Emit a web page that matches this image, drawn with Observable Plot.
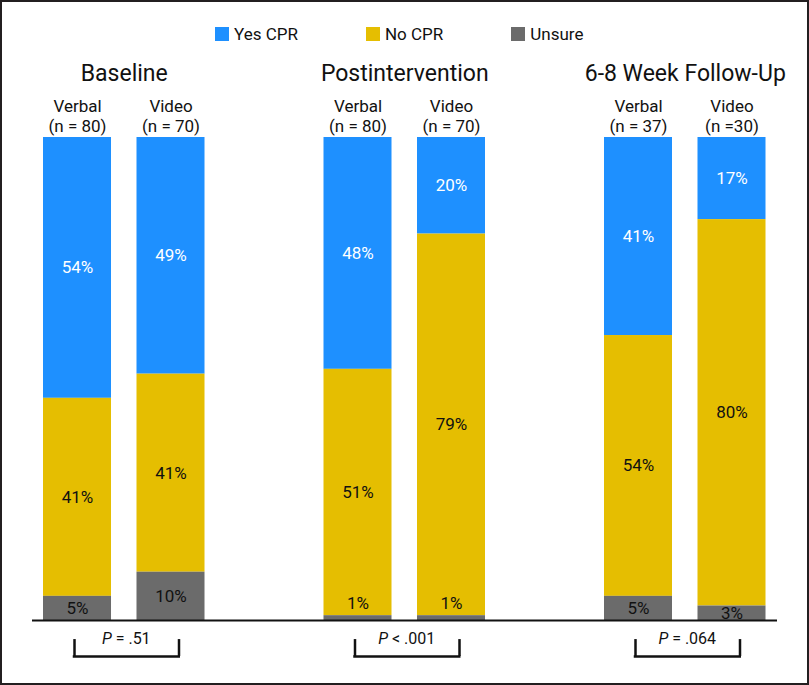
<!DOCTYPE html>
<html><head><meta charset="utf-8">
<script src="https://cdn.jsdelivr.net/npm/d3@7"></script>
<script src="https://cdn.jsdelivr.net/npm/@observablehq/plot@0.6"></script>
<style>
body{margin:0;background:#fff;}
#wrap{position:relative;width:809px;height:685px;overflow:hidden;background:#fff;font-family:Roboto,"Liberation Sans",sans-serif;}
#frame{position:absolute;left:0;top:0;width:809px;height:685px;box-sizing:border-box;border:2px solid #231f20;pointer-events:none;}
#legend{height:55px;box-sizing:border-box;padding-top:17.5px;}
.lg-swatches{font-family:Roboto,sans-serif !important;font-size:17px !important;color:#111 !important;}
.lg-swatch{margin-right:68px !important;}
.lg-swatch > svg{margin-right:5px !important;}
</style>
</head><body>
<div id="wrap"><div id="legend"></div><div id="chart"></div><div id="frame"></div></div>
<script>
const periods = ["Baseline", "Postintervention", "6-8 Week Follow-Up"];
const arms = ["Verbal", "Video"];
const armLabels = ["Verbal\n(n = 80)", "Video\n(n = 70)", "Verbal\n(n = 80)", "Video\n(n = 70)", "Verbal\n(n = 37)", "Video\n(n =30)"];
const responses = ["Yes CPR", "No CPR", "Unsure"];
const yesCPR = [54, 49, 48, 20, 41, 17];
const noCPR  = [41, 41, 51, 79, 54, 80];
const unsure = [5, 10, 1, 1, 5, 3];
const pValues = ["P = .51", "P < .001", "P = .064"];
const colors = ["#1E90FF", "#E5BE01", "#6B6B6B"];

// layout constants
const STEP = 93.5;
const P_Y = -3.8, BR_TOP = -3.95, BR_BOT = -7.45;

const keys = [];
periods.forEach((p, pi) => {
  arms.forEach(a => keys.push(p + "|" + a));
  if (pi < periods.length - 1) keys.push("gap" + pi);
});

const rows = [], labelRows = [], armRows = [], groupRows = [], brH = [], brL = [], brR = [];
periods.forEach((p, pi) => {
  arms.forEach((a, ai) => {
    const i = pi * 2 + ai, key = p + "|" + a;
    const vals = {"Yes CPR": yesCPR[i], "No CPR": noCPR[i], "Unsure": unsure[i]};
    responses.forEach(r => rows.push({key, response: r, value: vals[r]}));
    const u = unsure[i], n = noCPR[i], y = yesCPR[i];
    labelRows.push({key, response: "Unsure", text: u + "%", ym: u < 2 ? u + 2.5 : u / 2});
    labelRows.push({key, response: "No CPR", text: n + "%", ym: u + n / 2});
    labelRows.push({key, response: "Yes CPR", text: y + "%", ym: u + n + y / 2});
    armRows.push({key, label: armLabels[i]});
  });
  const k1 = p + "|Verbal", k2 = p + "|Video";
  groupRows.push({key: k1, title: p, p: pValues[pi]});
  brH.push({x1: k1, x2: k2});
  brL.push({x: k1});
  brR.push({x: k2});
});

const chart = Plot.plot({
  width: 809, height: 630,
  marginTop: 82, marginBottom: 65, marginLeft: 43, marginRight: 43.5,
  style: {fontFamily: "Roboto, sans-serif", fontSize: "17px", color: "#111", background: "transparent", overflow: "visible"},
  x: {type: "band", domain: keys, paddingInner: 0.2727, paddingOuter: 0, round: false, axis: null},
  y: {domain: [0, 100], axis: null},
  color: {domain: responses, range: colors},
  marks: [
    Plot.barY(rows, {x: "key", y: "value", fill: "response", order: ["Unsure", "No CPR", "Yes CPR"]}),
    Plot.ruleY([0], {stroke: "#111", strokeWidth: 2, insetLeft: -11, insetRight: -11.5}),
    Plot.text(labelRows, {x: "key", y: "ym", text: "text", fontSize: 17,
      fill: d => d.response === "Yes CPR" ? "#fff" : "#111"}),
    Plot.text(armRows, {x: "key", text: "label", frameAnchor: "top", lineAnchor: "middle", dy: -22.2, lineHeight: 1.2, fontSize: 17, fill: "#111"}),
    Plot.text(groupRows, {x: "key", text: "title", frameAnchor: "top", lineAnchor: "middle", dx: STEP / 2, dy: -63.5, fontSize: 23, fill: "#111"}),
    Plot.ruleY(brH, {x1: "x1", x2: "x2", y: () => BR_BOT, stroke: "#111", strokeWidth: 2.5, insetLeft: 29.75, insetRight: 24.5}),
    Plot.ruleX(brL, {x: "x", y1: () => BR_TOP, y2: () => BR_BOT, dx: -3, stroke: "#111", strokeWidth: 2.5}),
    Plot.ruleX(brR, {x: "x", y1: () => BR_TOP, y2: () => BR_BOT, dx: 8, stroke: "#111", strokeWidth: 2.5}),
    Plot.text(groupRows, {x: "key", y: () => P_Y, text: "p", dx: STEP / 2 + 2, fontSize: 16, fill: "#111"})
  ]
});
document.getElementById("chart").appendChild(chart);

// italic P in p-values
const ns = "http://www.w3.org/2000/svg";
chart.querySelectorAll("text").forEach(t => {
  const s = t.textContent;
  if (!pValues.includes(s)) return;
  while (t.firstChild) t.removeChild(t.firstChild);
  const a = document.createElementNS(ns, "tspan");
  a.setAttribute("font-style", "italic");
  a.textContent = s.slice(0, 1);
  const b = document.createElementNS(ns, "tspan");
  b.textContent = s.slice(1);
  t.appendChild(a); t.appendChild(b);
});

const leg = chart.legend("color", {legend: "swatches", className: "lg", swatchSize: 14, marginLeft: 215,
  style: {fontSize: "17px", fontFamily: "Roboto, sans-serif"}});
document.getElementById("legend").appendChild(leg);
</script>
</body></html>
